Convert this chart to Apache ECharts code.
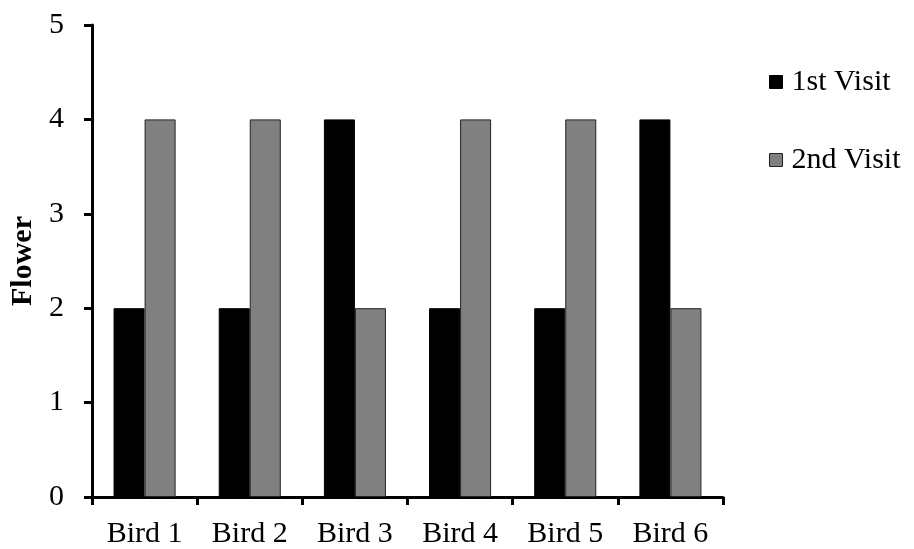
<!DOCTYPE html>
<html><head><meta charset="utf-8">
<script src="https://cdn.jsdelivr.net/npm/echarts@6/dist/echarts.min.js"></script>
<style>html,body{margin:0;padding:0;background:#fff}#c{width:914px;height:549px}</style>
</head><body><div id="c"></div>
<script>
const categories = ['Bird 1','Bird 2','Bird 3','Bird 4','Bird 5','Bird 6'];
const visit1 = [2,2,4,2,2,4];
const visit2 = [4,4,2,4,4,2];
const seriesNames = ['1st Visit','2nd Visit'];
const yTicks = {min:0, max:5, interval:1};
const FONT = '"Liberation Serif","Times New Roman",serif';
const chart = echarts.init(document.getElementById('c'));
chart.setOption({
  animation:false,
  backgroundColor:'#fff',
  grid:{left:92,right:191,top:25,bottom:52,containLabel:false},
  legend:{
    orient:'vertical', left:764, top:62, itemGap:48,
    itemWidth:13, itemHeight:13, icon:'rect',
    textStyle:{fontFamily:FONT,fontSize:30,color:'#000',padding:[0,0,0,4]},
    data:[
      {name:seriesNames[0], itemStyle:{color:'#000',borderColor:'#000',borderWidth:1}},
      {name:seriesNames[1], itemStyle:{color:'#808080',borderColor:'#222',borderWidth:1}}
    ]
  },
  xAxis:{
    type:'category', data:categories,
    axisLine:{lineStyle:{color:'#000',width:3}},
    axisTick:{show:true,length:8,lineStyle:{color:'#000',width:3},alignWithLabel:false},
    axisLabel:{fontFamily:FONT,fontSize:30,color:'#000',margin:22}
  },
  yAxis:{
    type:'value', min:yTicks.min, max:yTicks.max, interval:yTicks.interval,
    name:'Flower', nameLocation:'middle', nameGap:54, nameRotate:90,
    nameTextStyle:{fontFamily:FONT,fontSize:30,fontWeight:'bold',color:'#000'},
    axisLine:{show:true,lineStyle:{color:'#000',width:3}},
    axisTick:{show:true,length:8,lineStyle:{color:'#000',width:3}},
    axisLabel:{fontFamily:FONT,fontSize:30,color:'#000',margin:28},
    splitLine:{show:false}
  },
  series:[
    {name:seriesNames[0], type:'bar', data:visit1, barGap:'0%', barCategoryGap:'41%',
     itemStyle:{color:'#000',borderColor:'#000',borderWidth:1}},
    {name:seriesNames[1], type:'bar', data:visit2, barGap:'0%', barCategoryGap:'41%',
     itemStyle:{color:'#808080',borderColor:'#222',borderWidth:1}}
  ]
});
</script></body></html>
